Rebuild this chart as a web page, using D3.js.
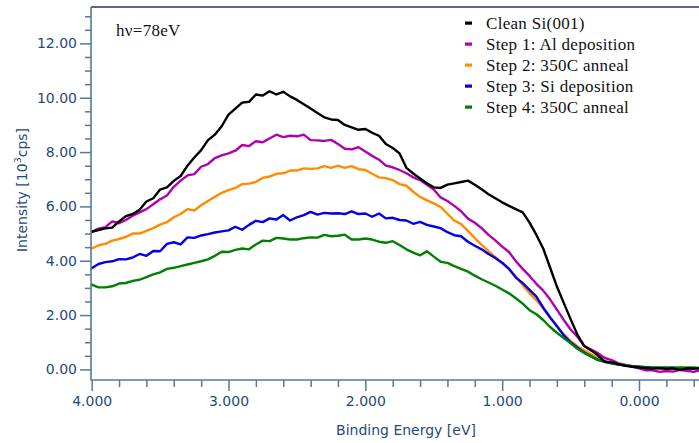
<!DOCTYPE html>
<html>
<head>
<meta charset="utf-8">
<script src="https://cdn.jsdelivr.net/npm/d3@7/dist/d3.min.js"></script>
<style>
  html, body { margin: 0; padding: 0; background: #fff; }
  svg { display: block; }
</style>
</head>
<body>
<svg id="chart" width="699" height="443"></svg>
<script>
// Valence-band photoemission spectra, Si(001) surface preparation sequence
const bindingEnergy = [
  4.00, 3.95, 3.90, 3.85, 3.80, 3.75, 3.70, 3.65, 3.60, 3.55,
  3.50, 3.45, 3.40, 3.35, 3.30, 3.25, 3.20, 3.15, 3.10, 3.05,
  3.00, 2.95, 2.90, 2.85, 2.80, 2.75, 2.70, 2.65, 2.60, 2.55,
  2.50, 2.45, 2.40, 2.35, 2.30, 2.25, 2.20, 2.15, 2.10, 2.05,
  2.00, 1.95, 1.90, 1.85, 1.80, 1.75, 1.70, 1.65, 1.60, 1.55,
  1.50, 1.45, 1.40, 1.35, 1.30, 1.25, 1.20, 1.15, 1.10, 1.05,
  1.00, 0.95, 0.90, 0.85, 0.80, 0.75, 0.70, 0.65, 0.60, 0.55,
  0.50, 0.45, 0.40, 0.35, 0.30, 0.25, 0.20, 0.15, 0.10, 0.05,
  0.00, -0.05, -0.10, -0.15, -0.20, -0.25, -0.30, -0.35, -0.40, -0.45
];

const cleanSi = [
  5.06, 5.13, 5.19, 5.22, 5.45, 5.64, 5.72, 5.88, 6.18, 6.30,
  6.62, 6.70, 6.94, 7.12, 7.50, 7.80, 8.07, 8.44, 8.64, 8.95,
  9.38, 9.60, 9.82, 9.85, 10.12, 10.08, 10.24, 10.12, 10.22, 10.05,
  9.92, 9.76, 9.60, 9.44, 9.28, 9.20, 9.18, 9.00, 8.91, 8.82,
  8.85, 8.71, 8.60, 8.30, 8.15, 7.95, 7.42, 7.21, 7.03, 6.85,
  6.70, 6.68, 6.80, 6.85, 6.90, 6.95, 6.80, 6.63, 6.45, 6.30,
  6.15, 6.02, 5.90, 5.78, 5.40, 4.95, 4.45, 3.75, 3.05, 2.45,
  1.85, 1.28, 0.86, 0.70, 0.52, 0.28, 0.26, 0.20, 0.13, 0.10,
  0.07, 0.05, 0.03, 0.05, 0.02, 0.04, -0.02, 0.04, 0.03, 0.04
];

const step1AlDep = [
  5.06, 5.18, 5.24, 5.45, 5.38, 5.50, 5.66, 5.78, 5.90, 6.08,
  6.26, 6.40, 6.72, 6.95, 7.14, 7.19, 7.46, 7.56, 7.78, 7.88,
  7.95, 8.05, 8.26, 8.22, 8.40, 8.36, 8.50, 8.64, 8.55, 8.60,
  8.58, 8.64, 8.44, 8.43, 8.41, 8.45, 8.30, 8.12, 8.10, 8.18,
  8.02, 7.86, 7.72, 7.50, 7.44, 7.34, 7.22, 7.07, 6.97, 6.80,
  6.62, 6.33, 6.20, 6.02, 5.82, 5.55, 5.40, 5.20, 4.95, 4.75,
  4.52, 4.32, 3.98, 3.70, 3.44, 3.15, 2.90, 2.58, 2.20, 1.82,
  1.47, 1.20, 0.86, 0.73, 0.60, 0.42, 0.34, 0.22, 0.17, 0.10,
  0.04, -0.03, -0.03, -0.09, -0.06, -0.08, -0.02, -0.05, -0.09, -0.03
];

const step2Anneal = [
  4.45, 4.57, 4.62, 4.74, 4.80, 4.88, 5.00, 5.00, 5.10, 5.20,
  5.33, 5.42, 5.60, 5.72, 5.90, 5.85, 6.04, 6.20, 6.35, 6.50,
  6.60, 6.68, 6.82, 6.84, 6.90, 7.05, 7.10, 7.20, 7.22, 7.32,
  7.32, 7.40, 7.38, 7.40, 7.48, 7.42, 7.50, 7.42, 7.48, 7.37,
  7.34, 7.20, 7.07, 7.04, 6.97, 6.82, 6.76, 6.54, 6.35, 6.22,
  6.11, 5.98, 5.73, 5.48, 5.35, 5.10, 4.83, 4.58, 4.35, 4.13,
  3.90, 3.70, 3.42, 3.10, 2.80, 2.55, 2.25, 1.90, 1.58, 1.30,
  1.05, 0.85, 0.70, 0.56, 0.42, 0.30, 0.23, 0.20, 0.15, 0.12,
  0.09, 0.07, 0.06, 0.04, 0.05, 0.04, 0.06, 0.04, 0.04, 0.05
];

const step3SiDep = [
  3.72, 3.88, 3.95, 3.98, 4.06, 4.05, 4.12, 4.25, 4.18, 4.36,
  4.35, 4.62, 4.68, 4.60, 4.86, 4.84, 4.93, 4.98, 5.04, 5.08,
  5.12, 5.25, 5.14, 5.32, 5.47, 5.42, 5.56, 5.52, 5.68, 5.48,
  5.60, 5.68, 5.80, 5.70, 5.76, 5.74, 5.75, 5.72, 5.82, 5.72,
  5.74, 5.62, 5.74, 5.56, 5.58, 5.50, 5.48, 5.36, 5.43, 5.32,
  5.26, 5.20, 5.05, 4.94, 4.90, 4.70, 4.55, 4.42, 4.25, 4.10,
  3.93, 3.70, 3.38, 3.18, 2.93, 2.68, 2.27, 1.92, 1.60, 1.25,
  1.00, 0.80, 0.62, 0.48, 0.34, 0.29, 0.22, 0.18, 0.15, 0.12,
  0.10, 0.08, 0.06, 0.05, 0.05, 0.06, 0.04, 0.05, 0.04, 0.05
];

const step4Anneal = [
  3.12, 3.02, 3.02, 3.06, 3.16, 3.18, 3.26, 3.30, 3.40, 3.50,
  3.57, 3.70, 3.74, 3.80, 3.86, 3.92, 3.98, 4.05, 4.18, 4.33,
  4.32, 4.40, 4.45, 4.42, 4.60, 4.74, 4.72, 4.84, 4.82, 4.78,
  4.78, 4.83, 4.86, 4.85, 4.95, 4.90, 4.92, 4.96, 4.78, 4.78,
  4.82, 4.78, 4.70, 4.66, 4.72, 4.58, 4.42, 4.30, 4.20, 4.35,
  4.15, 3.96, 3.92, 3.80, 3.70, 3.60, 3.45, 3.32, 3.20, 3.08,
  2.94, 2.80, 2.62, 2.42, 2.18, 2.03, 1.82, 1.56, 1.35, 1.15,
  0.96, 0.76, 0.60, 0.48, 0.36, 0.28, 0.22, 0.18, 0.15, 0.12,
  0.10, 0.08, 0.07, 0.06, 0.07, 0.05, 0.07, 0.06, 0.07, 0.05
];

const seriesNames = [
  "Clean Si(001)",
  "Step 1: Al deposition",
  "Step 2: 350C anneal",
  "Step 3: Si deposition",
  "Step 4: 350C anneal"
];
const seriesValues = [cleanSi, step1AlDep, step2Anneal, step3SiDep, step4Anneal];
const seriesColors = ["#000000", "#b000b0", "#ff8c00", "#0000e6", "#008000"];

const xMajorTicks = [4, 3, 2, 1, 0];
const yMajorTicks = [0, 2, 4, 6, 8, 10, 12];
const photonLabel = "hν=78eV";

// ---- layout ----
const plot = { left: 91, right: 699, top: 7, bottom: 380 };
const axisColor = "#56789a";
const labelColor = "#1f4a7c";
const serifFont = "'Liberation Serif', 'Times New Roman', serif";

const svg = d3.select("#chart");

const x = d3.scaleLinear().domain([4.005, -0.4385]).range([plot.left, plot.right]);
const y = d3.scaleLinear().domain([-0.39, 13.34]).range([plot.bottom, plot.top]);

svg.append("defs").append("clipPath").attr("id", "plotClip")
  .append("rect")
  .attr("x", plot.left).attr("y", plot.top)
  .attr("width", plot.right - plot.left).attr("height", plot.bottom - plot.top);

// ---- curves ----
const line = d3.line()
  .x((d, i) => x(bindingEnergy[i]))
  .y(d => y(d));

const curves = svg.append("g").attr("clip-path", "url(#plotClip)");
seriesValues.forEach((vals, k) => {
  curves.append("path")
    .datum(vals)
    .attr("d", line)
    .attr("fill", "none")
    .attr("stroke", seriesColors[k])
    .attr("stroke-width", 2.4)
    .attr("stroke-linejoin", "round")
    .attr("stroke-linecap", "round");
});
// clean-surface spectrum drawn last so it sits on top
curves.selectAll("path").filter((d, i) => i === 0).raise();

// ---- frame ----
svg.append("line")
  .attr("x1", plot.left).attr("x2", plot.right)
  .attr("y1", plot.top).attr("y2", plot.top)
  .attr("stroke", "#1b3a63").attr("stroke-width", 1.5);

// ---- x axis ----
const xMinor = d3.range(4.0, -0.45, -0.2).map(v => Math.round(v * 10) / 10)
  .filter(v => !xMajorTicks.includes(v));

const xAxisMinor = d3.axisBottom(x).tickValues(xMinor).tickSize(7).tickFormat("");
const xAxisMajor = d3.axisBottom(x).tickValues(xMajorTicks).tickSize(11).tickPadding(5)
  .tickFormat(d3.format(".3f"));

const gxMin = svg.append("g").attr("transform", `translate(0,${plot.bottom})`).call(xAxisMinor);
const gxMaj = svg.append("g").attr("transform", `translate(0,${plot.bottom})`).call(xAxisMajor);
[gxMin, gxMaj].forEach(g => {
  g.select(".domain").remove();
  g.selectAll(".tick line").attr("stroke", axisColor).attr("stroke-width", 1.5);
});
gxMaj.selectAll(".tick text")
  .attr("fill", labelColor)
  .style("font-family", "'DejaVu Sans', sans-serif")
  .style("font-size", "14px");

svg.append("line")
  .attr("x1", plot.left - 0.5).attr("x2", plot.right)
  .attr("y1", plot.bottom).attr("y2", plot.bottom)
  .attr("stroke", axisColor).attr("stroke-width", 1.6);

// ---- y axis ----
const yMinor = d3.range(0, 13.01, 0.5).filter(v => !yMajorTicks.includes(v));
const yAxisMinor = d3.axisLeft(y).tickValues(yMinor).tickSize(6).tickFormat("");
const yAxisMajor = d3.axisLeft(y).tickValues(yMajorTicks).tickSize(11).tickPadding(3)
  .tickFormat(d3.format(".2f"));

const gyMin = svg.append("g").attr("transform", `translate(${plot.left},0)`).call(yAxisMinor);
const gyMaj = svg.append("g").attr("transform", `translate(${plot.left},0)`).call(yAxisMajor);
[gyMin, gyMaj].forEach(g => {
  g.select(".domain").remove();
  g.selectAll(".tick line").attr("stroke", axisColor).attr("stroke-width", 1.5);
});
gyMaj.selectAll(".tick text")
  .attr("fill", labelColor)
  .style("font-family", "'DejaVu Sans', sans-serif")
  .style("font-size", "14px");

svg.append("line")
  .attr("x1", plot.left).attr("x2", plot.left)
  .attr("y1", plot.top).attr("y2", plot.bottom)
  .attr("stroke", axisColor).attr("stroke-width", 1.6);

// ---- axis titles ----
svg.append("text")
  .attr("x", 406).attr("y", 435)
  .attr("text-anchor", "middle")
  .attr("fill", labelColor)
  .style("font-family", "'DejaVu Sans', sans-serif")
  .style("font-size", "14px")
  .text("Binding Energy [eV]");

const yTitle = svg.append("text")
  .attr("transform", "translate(27,190) rotate(-90)")
  .attr("text-anchor", "middle")
  .attr("fill", labelColor)
  .style("font-family", "'DejaVu Sans', sans-serif")
  .style("font-size", "14px");
yTitle.append("tspan").text("Intensity [10");
yTitle.append("tspan").attr("dy", -6).style("font-size", "9.5px").text("3");
yTitle.append("tspan").attr("dy", 6).text("cps]");

// ---- annotation ----
svg.append("text")
  .attr("x", 116).attr("y", 36)
  .attr("fill", "#111")
  .style("font-family", serifFont)
  .style("font-size", "17px")
  .style("letter-spacing", "0.3px")
  .text(photonLabel);

// ---- legend ----
const legend = svg.append("g").attr("transform", "translate(465,23)");
seriesNames.forEach((name, k) => {
  const row = legend.append("g").attr("transform", `translate(0,${k * 21})`);
  row.append("rect")
    .attr("x", 0).attr("y", -1.5)
    .attr("width", 7).attr("height", 3.2)
    .attr("fill", seriesColors[k]);
  row.append("text")
    .attr("x", 21).attr("y", 5.5)
    .attr("fill", "#111")
    .style("font-family", serifFont)
    .style("font-size", "17px")
    .style("letter-spacing", "0.3px")
    .text(name);
});
</script>
</body>
</html>
